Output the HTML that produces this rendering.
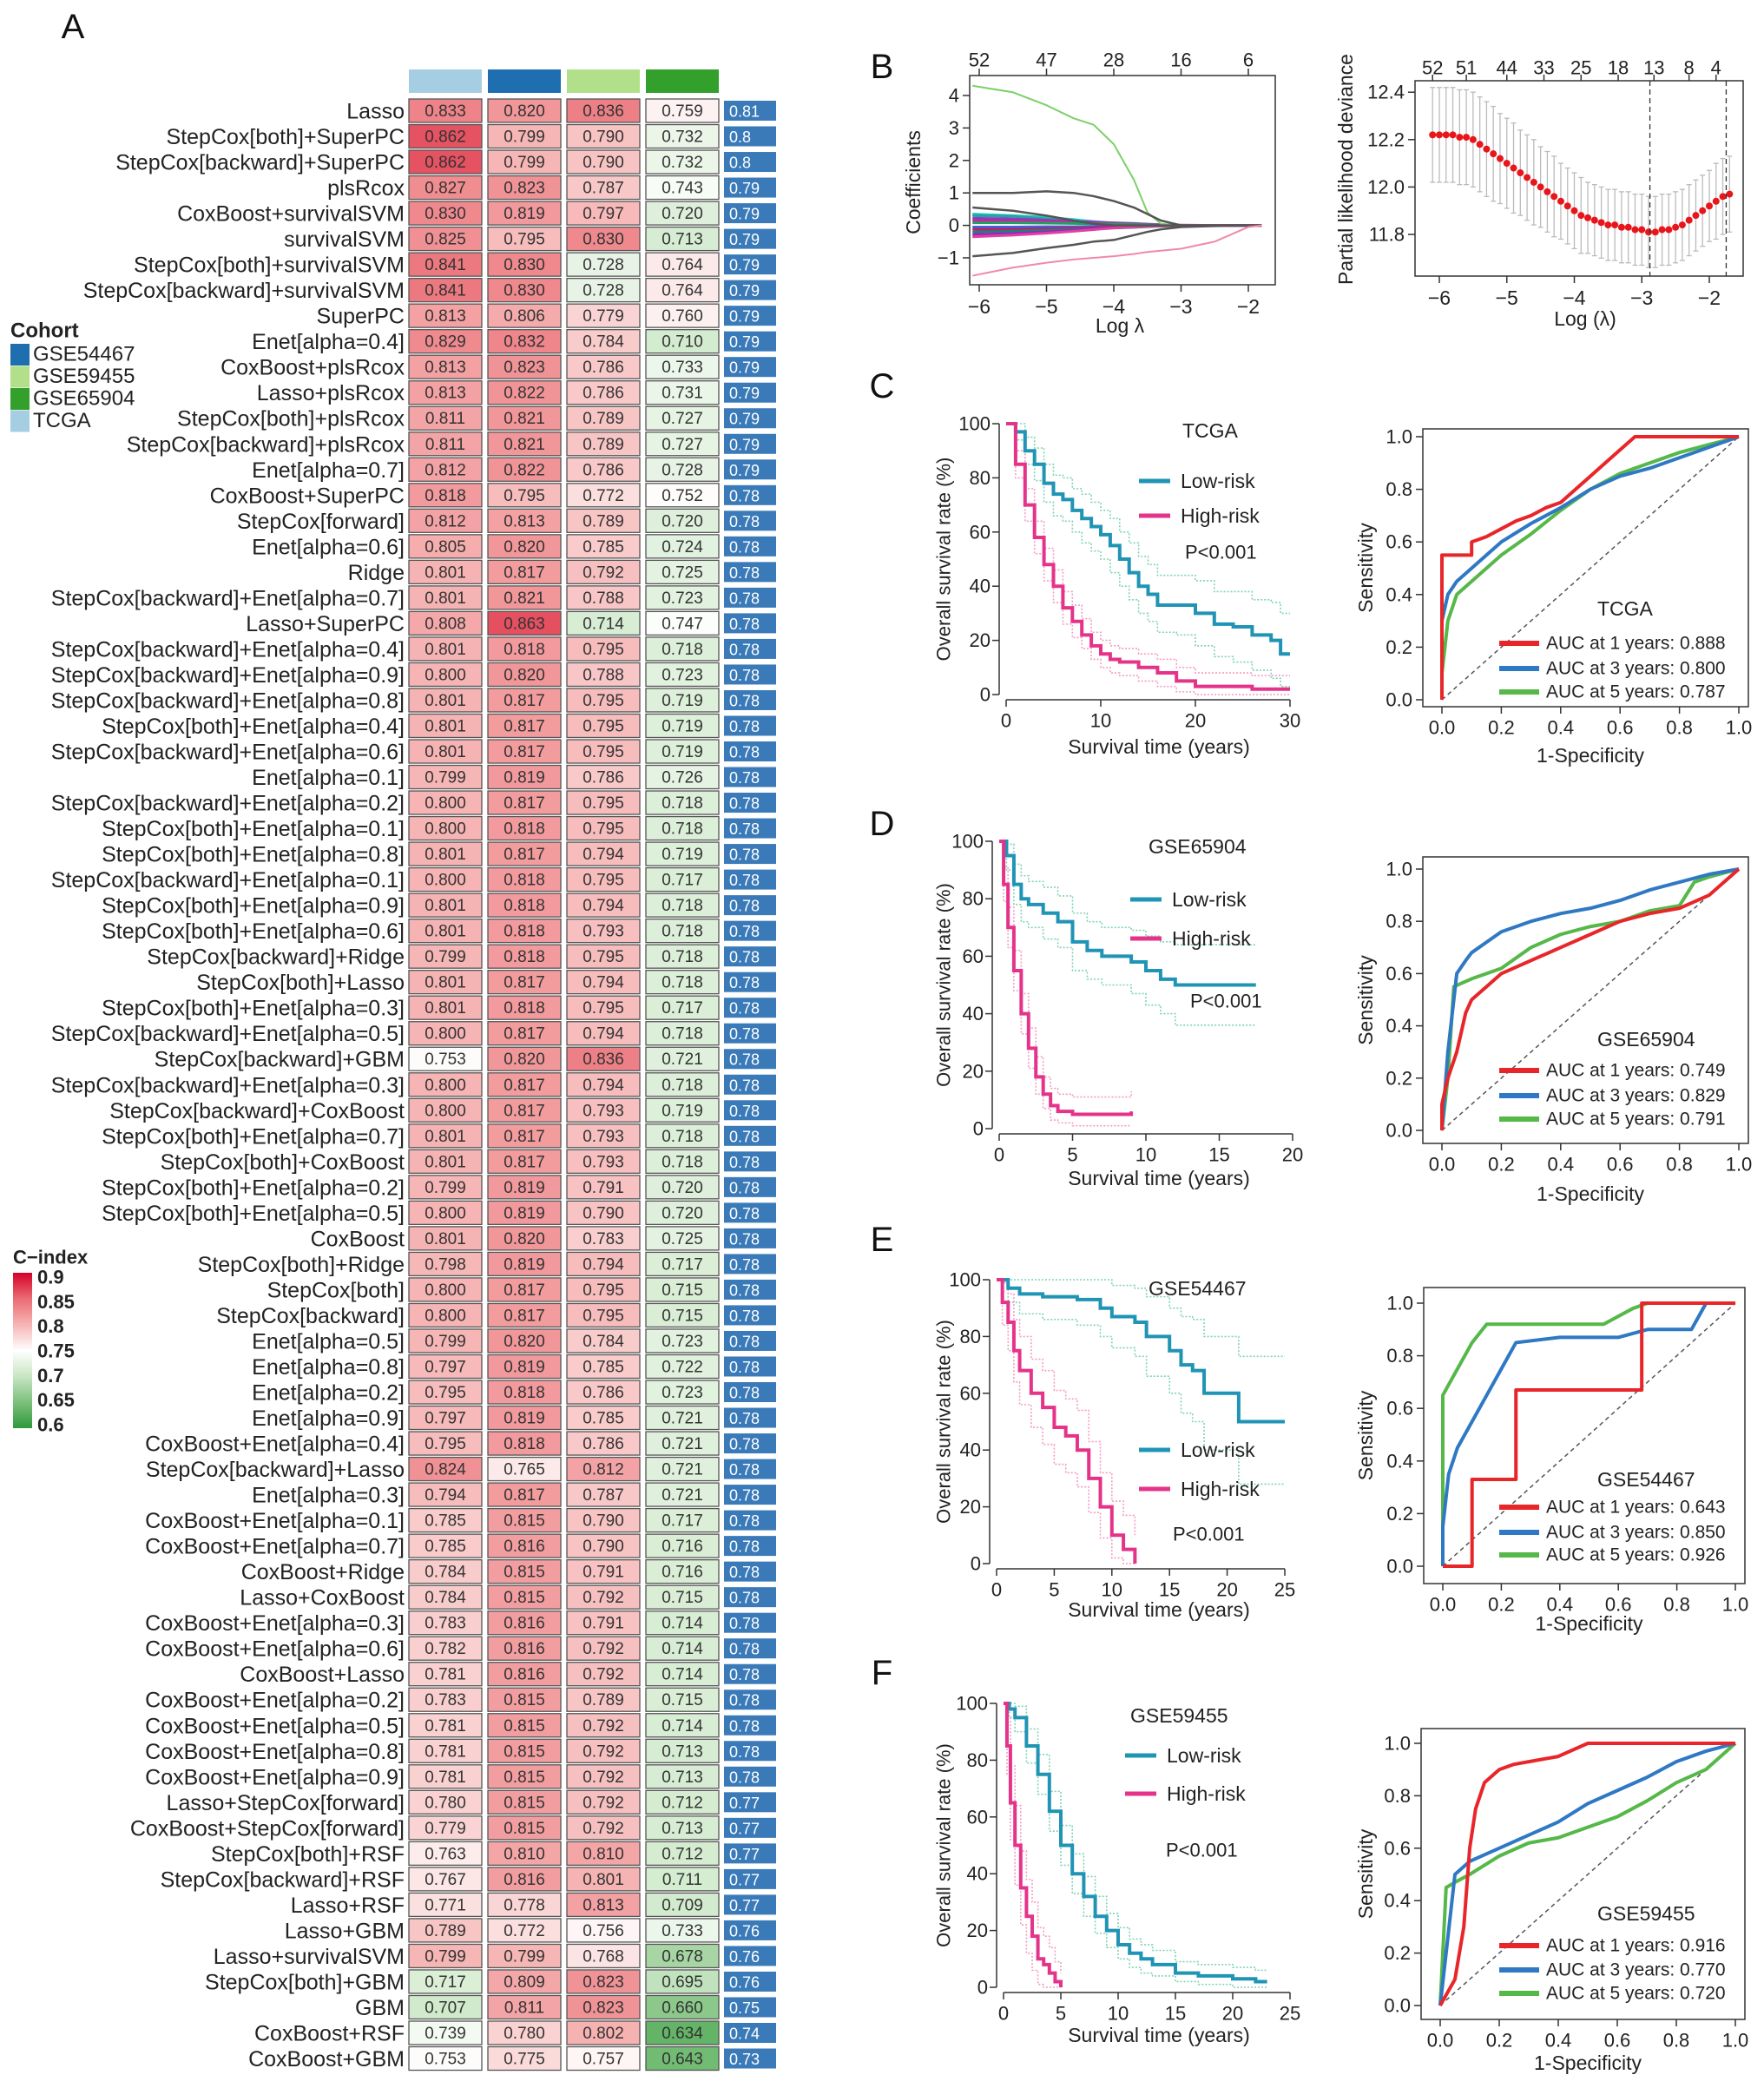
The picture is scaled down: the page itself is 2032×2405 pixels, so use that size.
<!DOCTYPE html>
<html><head><meta charset="utf-8"><style>
html,body{margin:0;padding:0;background:#fff}
svg{display:block;font-family:"Liberation Sans",Arial,sans-serif}
</style></head><body>
<svg id="fig" xmlns="http://www.w3.org/2000/svg" width="2032" height="2405" viewBox="0 0 2032 2405">
<rect width="2032" height="2405" fill="#fff"/>
</svg>
<script>
// ===== Heatmap data =====
const models=["Lasso","StepCox[both]+SuperPC","StepCox[backward]+SuperPC","plsRcox","CoxBoost+survivalSVM","survivalSVM","StepCox[both]+survivalSVM","StepCox[backward]+survivalSVM","SuperPC","Enet[alpha=0.4]","CoxBoost+plsRcox","Lasso+plsRcox","StepCox[both]+plsRcox","StepCox[backward]+plsRcox","Enet[alpha=0.7]","CoxBoost+SuperPC","StepCox[forward]","Enet[alpha=0.6]","Ridge","StepCox[backward]+Enet[alpha=0.7]","Lasso+SuperPC","StepCox[backward]+Enet[alpha=0.4]","StepCox[backward]+Enet[alpha=0.9]","StepCox[backward]+Enet[alpha=0.8]","StepCox[both]+Enet[alpha=0.4]","StepCox[backward]+Enet[alpha=0.6]","Enet[alpha=0.1]","StepCox[backward]+Enet[alpha=0.2]","StepCox[both]+Enet[alpha=0.1]","StepCox[both]+Enet[alpha=0.8]","StepCox[backward]+Enet[alpha=0.1]","StepCox[both]+Enet[alpha=0.9]","StepCox[both]+Enet[alpha=0.6]","StepCox[backward]+Ridge","StepCox[both]+Lasso","StepCox[both]+Enet[alpha=0.3]","StepCox[backward]+Enet[alpha=0.5]","StepCox[backward]+GBM","StepCox[backward]+Enet[alpha=0.3]","StepCox[backward]+CoxBoost","StepCox[both]+Enet[alpha=0.7]","StepCox[both]+CoxBoost","StepCox[both]+Enet[alpha=0.2]","StepCox[both]+Enet[alpha=0.5]","CoxBoost","StepCox[both]+Ridge","StepCox[both]","StepCox[backward]","Enet[alpha=0.5]","Enet[alpha=0.8]","Enet[alpha=0.2]","Enet[alpha=0.9]","CoxBoost+Enet[alpha=0.4]","StepCox[backward]+Lasso","Enet[alpha=0.3]","CoxBoost+Enet[alpha=0.1]","CoxBoost+Enet[alpha=0.7]","CoxBoost+Ridge","Lasso+CoxBoost","CoxBoost+Enet[alpha=0.3]","CoxBoost+Enet[alpha=0.6]","CoxBoost+Lasso","CoxBoost+Enet[alpha=0.2]","CoxBoost+Enet[alpha=0.5]","CoxBoost+Enet[alpha=0.8]","CoxBoost+Enet[alpha=0.9]","Lasso+StepCox[forward]","CoxBoost+StepCox[forward]","StepCox[both]+RSF","StepCox[backward]+RSF","Lasso+RSF","Lasso+GBM","Lasso+survivalSVM","StepCox[both]+GBM","GBM","CoxBoost+RSF","CoxBoost+GBM"];
const tcga=[.833,.862,.862,.827,.830,.825,.841,.841,.813,.829,.813,.813,.811,.811,.812,.818,.812,.805,.801,.801,.808,.801,.800,.801,.801,.801,.799,.800,.800,.801,.800,.801,.801,.799,.801,.801,.800,.753,.800,.800,.801,.801,.799,.800,.801,.798,.800,.800,.799,.797,.795,.797,.795,.824,.794,.785,.785,.784,.784,.783,.782,.781,.783,.781,.781,.781,.780,.779,.763,.767,.771,.789,.799,.717,.707,.739,.753];
const gse54467=[.820,.799,.799,.823,.819,.795,.830,.830,.806,.832,.823,.822,.821,.821,.822,.795,.813,.820,.817,.821,.863,.818,.820,.817,.817,.817,.819,.817,.818,.817,.818,.818,.818,.818,.817,.818,.817,.820,.817,.817,.817,.817,.819,.819,.820,.819,.817,.817,.820,.819,.818,.819,.818,.765,.817,.815,.816,.815,.815,.816,.816,.816,.815,.815,.815,.815,.815,.815,.810,.816,.778,.772,.799,.809,.811,.780,.775];
const gse59455=[.836,.790,.790,.787,.797,.830,.728,.728,.779,.784,.786,.786,.789,.789,.786,.772,.789,.785,.792,.788,.714,.795,.788,.795,.795,.795,.786,.795,.795,.794,.795,.794,.793,.795,.794,.795,.794,.836,.794,.793,.793,.793,.791,.790,.783,.794,.795,.795,.784,.785,.786,.785,.786,.812,.787,.790,.790,.791,.792,.791,.792,.792,.789,.792,.792,.792,.792,.792,.810,.801,.813,.756,.768,.823,.823,.802,.757];
const gse65904=[.759,.732,.732,.743,.720,.713,.764,.764,.760,.710,.733,.731,.727,.727,.728,.752,.720,.724,.725,.723,.747,.718,.723,.719,.719,.719,.726,.718,.718,.719,.717,.718,.718,.718,.718,.717,.718,.721,.718,.719,.718,.718,.720,.720,.725,.717,.715,.715,.723,.722,.723,.721,.721,.721,.721,.717,.716,.716,.715,.714,.714,.714,.715,.714,.713,.713,.712,.713,.712,.711,.709,.733,.678,.695,.660,.634,.643];
const meanC=[0.81,0.8,0.8,0.79,0.79,0.79,0.79,0.79,0.79,0.79,0.79,0.79,0.79,0.79,0.79,0.78,0.78,0.78,0.78,0.78,0.78,0.78,0.78,0.78,0.78,0.78,0.78,0.78,0.78,0.78,0.78,0.78,0.78,0.78,0.78,0.78,0.78,0.78,0.78,0.78,0.78,0.78,0.78,0.78,0.78,0.78,0.78,0.78,0.78,0.78,0.78,0.78,0.78,0.78,0.78,0.78,0.78,0.78,0.78,0.78,0.78,0.78,0.78,0.78,0.78,0.78,0.77,0.77,0.77,0.77,0.77,0.76,0.76,0.76,0.75,0.74,0.73];
const cohortNames=["GSE54467","GSE59455","GSE65904","TCGA"];
const cindexTicks=[0.9,0.85,0.8,0.75,0.7,0.65,0.6];

// ===== Panel B data =====
const coefGrid=[-6.1,-5.5,-5,-4.6,-4.3,-4,-3.7,-3.5,-3.3,-3,-2.5,-2,-1.8];
const coefGreen=[4.3,4.1,3.7,3.3,3.1,2.5,1.4,0.4,0.05,0,0,0,0];
const coefBlack1=[1.0,1.0,1.05,1.0,0.9,0.75,0.55,0.35,0.15,0,0,0,0];
const coefBlack2=[0.55,0.45,0.3,0.15,0.05,0,0,0,0,0,0,0,0];
const coefBlack3=[-0.95,-0.85,-0.7,-0.6,-0.5,-0.45,-0.3,-0.2,-0.12,-0.05,-0.02,0,0];
const coefPink=[-1.55,-1.3,-1.15,-1.05,-1.0,-0.95,-0.88,-0.82,-0.78,-0.72,-0.5,-0.05,0];
const coefSmall=[[0.35,0.3,0.25,0.18,0.12,0.07,0.03,0.01,0,0,0,0,0],[0.3,0.28,0.2,0.12,0.06,0.02,0,0,0,0,0,0,0],[0.22,0.2,0.16,0.12,0.1,0.08,0.06,0.04,0.02,0,0,0,0],[0.15,0.14,0.12,0.1,0.08,0.06,0.04,0.03,0.02,0.01,0,0,0],[0.08,0.08,0.07,0.06,0.05,0.04,0.03,0.02,0.01,0,0,0,0],[-0.05,-0.05,-0.04,-0.04,-0.03,-0.02,-0.02,-0.01,0,0,0,0,0],[-0.12,-0.12,-0.1,-0.08,-0.07,-0.05,-0.04,-0.03,-0.02,-0.01,0,0,0],[-0.2,-0.18,-0.15,-0.12,-0.1,-0.08,-0.06,-0.04,-0.02,0,0,0,0],[-0.28,-0.25,-0.2,-0.15,-0.1,-0.06,-0.03,-0.01,0,0,0,0,0],[-0.35,-0.3,-0.24,-0.18,-0.13,-0.08,-0.05,-0.03,-0.01,0,0,0,0]];
const coefSmallColors=["#1ec8c8","#2aa0a0","#8040c0","#d020a0","#20a060","#4060e0","#c02060","#208080","#a020c0","#e040a0"];
const coefTopLabels=["52","47","28","16","6"];
const cvLogLambda=[-6.1,-6.0,-5.9,-5.8,-5.7,-5.6,-5.5,-5.4,-5.3,-5.2,-5.1,-5.0,-4.9,-4.8,-4.7,-4.6,-4.5,-4.4,-4.3,-4.2,-4.1,-4.0,-3.9,-3.8,-3.7,-3.6,-3.5,-3.4,-3.3,-3.2,-3.1,-3.0,-2.9,-2.8,-2.7,-2.6,-2.5,-2.4,-2.3,-2.2,-2.1,-2.0,-1.9,-1.8,-1.7];
const cvMean=[12.22,12.22,12.22,12.22,12.21,12.21,12.20,12.18,12.16,12.14,12.12,12.10,12.08,12.06,12.04,12.02,12.00,11.98,11.96,11.94,11.92,11.90,11.88,11.87,11.86,11.85,11.84,11.84,11.83,11.83,11.82,11.82,11.81,11.81,11.82,11.82,11.83,11.84,11.86,11.88,11.90,11.92,11.94,11.96,11.97];
const cvSE=[0.2,0.2,0.2,0.2,0.2,0.2,0.2,0.2,0.2,0.2,0.19,0.19,0.19,0.18,0.18,0.18,0.17,0.17,0.17,0.16,0.16,0.16,0.16,0.15,0.15,0.15,0.15,0.15,0.15,0.15,0.15,0.15,0.15,0.15,0.15,0.15,0.15,0.15,0.15,0.15,0.15,0.15,0.16,0.16,0.16];
const cvTopLabels=["52","51","44","33","25","18","13","8","4"];
const cvTopPos=[-6.1,-5.6,-5.0,-4.45,-3.9,-3.35,-2.82,-2.3,-1.9];
const cvVLines=[-2.88,-1.75];

// ===== KM data =====
const cLowT=[0,1,2,3,4,5,6,7,8,9,10,11,12,13,14,15,16,18,20,22,24,26,28,29,30];
const cLowS=[100,97,90,85,78,74,72,68,65,62,59,55,50,45,40,37,33,33,30,26,25,22,20,15,15];
const cLowLo=[100,94,85,79,71,66,64,60,56,53,50,45,40,35,30,27,23,22,18,14,12,9,6,3,3];
const cLowHi=[100,100,95,91,85,81,80,76,74,71,68,65,60,56,51,48,44,44,42,38,38,35,34,30,30];
const cHighT=[0,1,2,3,4,5,6,7,8,9,10,11,12,14,16,18,20,22,26,30];
const cHighS=[100,85,70,58,48,40,32,27,22,18,15,13,12,10,8,5,3,3,2,2];
const cHighLo=[100,80,64,52,42,34,26,21,17,13,10,8,7,5,3,1,0,0,0,0];
const cHighHi=[100,90,76,64,54,46,38,33,28,23,20,18,17,15,13,10,8,8,7,7];
const dLowT=[0,0.5,1,1.5,2,3,4,5,6,7,9,10,11,12,17.5];
const dLowS=[100,95,85,80,78,75,72,65,62,60,58,55,52,50,50];
const dLowLo=[100,90,78,72,70,66,63,55,52,50,47,43,40,36,36];
const dLowHi=[100,99,92,88,86,84,81,75,72,70,69,67,65,64,64];
const dHighT=[0,0.3,0.6,1,1.5,2,2.5,3,3.5,4,5,9];
const dHighS=[100,85,70,55,40,28,18,12,8,6,5,6];
const dHighLo=[100,79,63,48,33,21,12,7,3,2,1,1];
const dHighHi=[100,91,77,62,47,35,25,18,14,12,11,13];
const eLowT=[0,1,2,4,7,9,10,12,13,15,16,17,18,21,25];
const eLowS=[100,97,95,94,93,90,87,85,80,75,70,68,60,50,50];
const eLowLo=[100,92,88,86,84,80,76,73,66,60,53,50,40,28,28];
const eLowHi=[100,100,100,100,100,100,98,97,94,90,87,86,80,73,73];
const eHighT=[0,0.5,1,1.5,2,3,4,5,6,7,8,9,10,11,12];
const eHighS=[100,92,85,75,68,60,55,48,45,40,30,20,10,5,0];
const eHighLo=[100,84,75,64,56,48,42,35,32,27,18,9,2,0,0];
const eHighHi=[100,99,95,86,80,72,68,61,58,54,43,32,22,17,10];
const fLowT=[0,0.5,1,2,3,4,5,6,7,8,9,10,11,12,13,15,17,20,22,23];
const fLowS=[100,98,95,85,75,62,50,40,32,25,20,15,12,10,8,5,4,3,2,2];
const fLowLo=[100,95,90,79,68,55,43,33,25,19,14,10,7,5,4,2,1,0,0,0];
const fLowHi=[100,100,99,91,82,69,57,47,39,32,26,21,17,15,13,9,8,7,6,6];
const fHighT=[0,0.3,0.6,1,1.5,2,2.5,3,3.5,4,4.5,5];
const fHighS=[100,85,65,50,35,25,18,10,8,5,2,0];
const fHighLo=[100,75,52,36,22,12,6,1,0,0,0,0];
const fHighHi=[100,95,78,64,48,38,30,21,18,14,9,5];

// ===== ROC data (FPR / TPR) =====
const cR1x=[0,0,0.1,0.1,0.15,0.2,0.25,0.3,0.35,0.4,0.45,0.5,0.55,0.6,0.65,1],cR1y=[0,0.55,0.55,0.6,0.62,0.65,0.68,0.7,0.73,0.75,0.8,0.85,0.9,0.95,1,1];
const cR3x=[0,0,0.02,0.05,0.1,0.2,0.3,0.4,0.5,0.6,0.7,0.8,0.9,1],cR3y=[0,0.3,0.4,0.45,0.5,0.6,0.67,0.73,0.8,0.85,0.88,0.92,0.96,1];
const cR5x=[0,0,0.02,0.05,0.1,0.2,0.3,0.4,0.5,0.6,0.7,0.8,0.9,1],cR5y=[0,0.1,0.3,0.4,0.45,0.55,0.63,0.72,0.8,0.86,0.9,0.94,0.97,1];
const dR1x=[0,0,0.02,0.05,0.08,0.1,0.15,0.2,0.3,0.4,0.5,0.6,0.7,0.8,0.9,0.95,1],dR1y=[0,0.1,0.2,0.3,0.45,0.5,0.55,0.6,0.65,0.7,0.75,0.8,0.83,0.85,0.9,0.95,1];
const dR3x=[0,0.02,0.05,0.08,0.1,0.15,0.2,0.3,0.4,0.5,0.6,0.7,0.8,0.9,1],dR3y=[0,0.3,0.6,0.65,0.68,0.72,0.76,0.8,0.83,0.85,0.88,0.92,0.95,0.98,1];
const dR5x=[0,0.02,0.04,0.1,0.2,0.3,0.4,0.5,0.6,0.7,0.8,0.85,0.9,1],dR5y=[0,0.2,0.55,0.58,0.62,0.7,0.75,0.78,0.8,0.84,0.86,0.95,0.97,1];
const eR1x=[0,0.1,0.1,0.25,0.25,0.68,0.68,1],eR1y=[0,0,0.33,0.33,0.67,0.67,1,1];
const eR3x=[0,0,0.02,0.05,0.1,0.15,0.2,0.25,0.4,0.6,0.7,0.85,0.9,1],eR3y=[0,0.15,0.35,0.45,0.55,0.65,0.75,0.85,0.87,0.87,0.9,0.9,1,1];
const eR5x=[0,0,0.05,0.1,0.15,0.55,0.6,0.65,0.7,1],eR5y=[0,0.65,0.75,0.85,0.92,0.92,0.95,0.98,1,1];
const fR1x=[0,0.05,0.08,0.1,0.12,0.15,0.2,0.25,0.4,0.5,1],fR1y=[0,0.1,0.3,0.6,0.75,0.85,0.9,0.92,0.95,1,1];
const fR3x=[0,0.02,0.05,0.1,0.2,0.3,0.4,0.5,0.6,0.7,0.8,0.9,1],fR3y=[0,0.2,0.5,0.55,0.6,0.65,0.7,0.77,0.82,0.87,0.93,0.97,1];
const fR5x=[0,0.02,0.05,0.1,0.2,0.3,0.4,0.5,0.6,0.7,0.8,0.9,0.95,1],fR5y=[0,0.45,0.47,0.5,0.57,0.62,0.64,0.68,0.72,0.78,0.85,0.9,0.95,1];
const cAUC=["0.888","0.800","0.787"],dAUC=["0.749","0.829","0.791"],eAUC=["0.643","0.850","0.926"],fAUC=["0.916","0.770","0.720"];

const NS="http://www.w3.org/2000/svg";
const svg=document.getElementById('fig');
function el(tag,attrs,parent,text){const e=document.createElementNS(NS,tag);for(const k in attrs)e.setAttribute(k,attrs[k]);if(text!==undefined)e.textContent=text;(parent||svg).appendChild(e);return e;}
function grp(name){const g=el('g',{},svg);


return g;}
function txt(g,x,y,s,size,opts){opts=opts||{};const t=el('text',{x:x,y:y,'font-size':size,fill:opts.fill||'#222','text-anchor':opts.anchor||'start','dominant-baseline':'central'},g,s);if(opts.rot)t.setAttribute('transform','rotate(-90 '+x+' '+y+')');if(opts.weight)t.setAttribute('font-weight',opts.weight);


return t;}

// ===== Panel letters =====
const lettersG=grp('panel-letters');
[["A",84,31],["B",1016,77],["C",1016,445],["D",1016,949],["E",1016,1428],["F",1016,1927]].forEach(l=>{txt(lettersG,l[1],l[2],l[0],40,{anchor:'middle',fill:'#111',name:'panel-letter-'+l[0].toLowerCase()});});

// ===== Heatmap =====
const stops=[[0.6,[46,154,58]],[0.65,[124,192,124]],[0.7,[200,230,195]],[0.75,[255,255,255]],[0.8,[246,180,180]],[0.85,[234,108,116]],[0.9,[214,0,42]]];
function cscale(v){if(v<=stops[0][0])return 'rgb('+stops[0][1]+')';for(let i=1;i<stops.length;i++){if(v<=stops[i][0]){const a=stops[i-1],b=stops[i],t=(v-a[0])/(b[0]-a[0]);return 'rgb('+a[1].map((c,k)=>Math.round(c+(b[1][k]-c)*t)).join(',')+')';}}return 'rgb('+stops[stops.length-1][1]+')';}
const hm=grp('heatmap');
const colX=[471,562,653,744],colW=84,rowTop=114,rowH=29.52,cellH=27;
const colFill=["#a6cee3","#1f6fb0","#b2df8a","#33a02c"];
const colData=[tcga,gse54467,gse59455,gse65904];
colX.forEach((x,j)=>{const r=el('rect',{x:x,y:80,width:colW,height:27,fill:colFill[j]},hm);

});
function rowY(i){return rowTop+i*rowH;}
models.forEach((m,i)=>{
  const y=rowY(i);
  txt(hm,466,y+cellH/2+1,m,25,{anchor:'end',name:'model-label'});
  colData.forEach((arr,j)=>{
    const r=el('rect',{x:colX[j],y:y,width:colW,height:cellH,fill:cscale(arr[i]),stroke:'#555','stroke-width':1.3},hm);
    
    
    txt(hm,colX[j]+colW/2,y+cellH/2+1,arr[i].toFixed(3),19,{anchor:'middle',fill:'#333',name:'cindex-value'});
  });
  const b=el('rect',{x:834,y:y+2,width:60,height:cellH-4,fill:'#3a7ab8'},hm);
  
  
  txt(hm,840,y+cellH/2+1,String(meanC[i]),18,{fill:'#fff',name:'mean-cindex-value'});
});
// cohort legend
const cl=grp('cohort-legend');
txt(cl,12,381,"Cohort",24,{fill:'#222',weight:'bold',name:'cohort-legend-title'});
const legFill=["#1f6fb0","#b2df8a","#33a02c","#a6cee3"];
cohortNames.forEach((n,k)=>{const y=408+k*25.5;const r=el('rect',{x:12,y:y-12,width:22,height:25,fill:legFill[k]},cl);


txt(cl,38,y,n,24,{name:'cohort-legend-entry'});});
// C-index legend
const ci=grp('cindex-legend');
txt(ci,15,1448,"C\u2212index",22,{weight:'bold',name:'cindex-legend-title'});
const defs=el('defs',{},svg);const lg=el('linearGradient',{id:'cg',x1:0,y1:0,x2:0,y2:1},defs);
cindexTicks.forEach((v,k)=>{el('stop',{offset:(k/(cindexTicks.length-1)),'stop-color':cscale(v)},lg);});
const cb=el('rect',{x:15,y:1466,width:22,height:179,fill:'url(#cg)'},ci);


cindexTicks.forEach((v,k)=>{txt(ci,43,1471+k*(170/6),String(v),22,{weight:'bold',name:'cindex-tick'});});

// ===== Panel B left: coefficient paths =====
const bl=grp('lasso-coef-plot');
const bL={x0:1117,x1:1469,y0:87,y1:328};
const bx=v=>1128+(v+6)*77.5, by=v=>259.6-v*37.4;
function poly(g,xs,ys,fx,fy,stroke,w,name,extra){const p=el('polyline',Object.assign({points:xs.map((x,i)=>fx(x)+','+fy(ys[i])).join(' '),fill:'none',stroke:stroke,'stroke-width':w,'stroke-linejoin':'round'},extra||{}),g);


return p;}
coefSmall.forEach((s,k)=>poly(bl,coefGrid,s,bx,by,coefSmallColors[k],3,'coef-path-small'));
poly(bl,coefGrid,coefGreen,bx,by,'#7ccf6a',2,'coef-path-green');
poly(bl,coefGrid,coefBlack1,bx,by,'#555',2.5,'coef-path-black');
poly(bl,coefGrid,coefBlack2,bx,by,'#555',2.5,'coef-path-black');
poly(bl,coefGrid,coefBlack3,bx,by,'#555',2.5,'coef-path-black');
poly(bl,coefGrid,coefPink,bx,by,'#f08aa8',2,'coef-path-pink');
function box(g,b,name){const r=el('rect',{x:b.x0,y:b.y0,width:b.x1-b.x0,height:b.y1-b.y0,fill:'none',stroke:'#333','stroke-width':1.5},g);

}
box(bl,bL,'coef-plot-frame');
[-6,-5,-4,-3,-2].forEach(v=>{el('line',{x1:bx(v),x2:bx(v),y1:bL.y1,y2:bL.y1+8,stroke:'#333','stroke-width':1.5},bl);txt(bl,bx(v),bL.y1+25,String(v).replace('-','\u2212'),23,{anchor:'middle',name:'x-tick'});
el('line',{x1:bx(v),x2:bx(v),y1:bL.y0,y2:bL.y0-8,stroke:'#333','stroke-width':1.5},bl);});
coefTopLabels.forEach((s,k)=>txt(bl,bx(-6+k),69,s,22,{anchor:'middle',name:'top-df-label'}));
[4,3,2,1,0,-1].forEach(v=>{el('line',{x1:bL.x0,x2:bL.x0-8,y1:by(v),y2:by(v),stroke:'#333','stroke-width':1.5},bl);txt(bl,bL.x0-12,by(v),String(v).replace('-','\u2212'),22,{anchor:'end',name:'y-tick'});});
txt(bl,1290,375,"Log \u03bb",23,{anchor:'middle',name:'x-axis-title'});
txt(bl,1052,210,"Coefficients",23,{anchor:'middle',rot:1,name:'y-axis-title'});

// ===== Panel B right: CV curve =====
const br=grp('lasso-cv-plot');
const bR={x0:1630,x1:2008,y0:93,y1:318};
const cx=v=>1658+(v+6)*77.75, cy=v=>270-(v-11.8)*273;
cvLogLambda.forEach((l,i)=>{const x=cx(l);const hi=cvMean[i]+cvSE[i],lo=cvMean[i]-cvSE[i];
const ln=el('line',{x1:x,x2:x,y1:cy(hi),y2:cy(lo),stroke:'#bbb','stroke-width':1.3},br);


el('line',{x1:x-3,x2:x+3,y1:cy(hi),y2:cy(hi),stroke:'#bbb','stroke-width':1.3},br);
el('line',{x1:x-3,x2:x+3,y1:cy(lo),y2:cy(lo),stroke:'#bbb','stroke-width':1.3},br);});
cvLogLambda.forEach((l,i)=>{const c=el('circle',{cx:cx(l),cy:cy(cvMean[i]),r:4,fill:'#e8161b'},br);

});
cvVLines.forEach(v=>{const l=el('line',{x1:cx(v),x2:cx(v),y1:bR.y0,y2:bR.y1,stroke:'#333','stroke-width':1.3,'stroke-dasharray':'6,4'},br);

});
box(br,bR,'cv-plot-frame');
[-6,-5,-4,-3,-2].forEach(v=>{el('line',{x1:cx(v),x2:cx(v),y1:bR.y1,y2:bR.y1+8,stroke:'#333','stroke-width':1.5},br);txt(br,cx(v),bR.y1+25,String(v).replace('-','\u2212'),23,{anchor:'middle',name:'x-tick'});});
cvTopLabels.forEach((s,k)=>{el('line',{x1:cx(cvTopPos[k]),x2:cx(cvTopPos[k]),y1:bR.y0,y2:bR.y0-7,stroke:'#333','stroke-width':1.5},br);txt(br,cx(cvTopPos[k]),78,s,22,{anchor:'middle',name:'top-df-label'});});
[12.4,12.2,12.0,11.8].forEach(v=>{el('line',{x1:bR.x0,x2:bR.x0-8,y1:cy(v),y2:cy(v),stroke:'#333','stroke-width':1.5},br);txt(br,bR.x0-12,cy(v),v.toFixed(1),22,{anchor:'end',name:'y-tick'});});
txt(br,1826,367,"Log (\u03bb)",23,{anchor:'middle',name:'x-axis-title'});
txt(br,1550,195,"Partial likelihood deviance",23,{anchor:'middle',rot:1,name:'y-axis-title'});

// ===== KM plots =====
function stepPts(T,S,fx,fy){let pts=[];for(let i=0;i<T.length;i++){if(i>0)pts.push(fx(T[i])+','+fy(S[i-1]));pts.push(fx(T[i])+','+fy(S[i]));}return pts.join(' ');}
function km(cfg){
  const g=grp(cfg.name);
  const fx=v=>cfg.x0+v*(cfg.xEnd-cfg.x0)/cfg.xMax, fy=v=>cfg.y0-v*(cfg.y0-cfg.y100)/100;
  [[cfg.lowT,cfg.lowLo,'#7fd3b5'],[cfg.lowT,cfg.lowHi,'#7fd3b5'],[cfg.highT,cfg.highLo,'#f39cc4'],[cfg.highT,cfg.highHi,'#f39cc4']].forEach(b=>{
    const p=el('polyline',{points:stepPts(b[0],b[1],fx,fy),fill:'none',stroke:b[2],'stroke-width':1.6,'stroke-dasharray':'2,2'},g);
    
    });
  const pl=el('polyline',{points:stepPts(cfg.lowT,cfg.lowS,fx,fy),fill:'none',stroke:'#1f94b4','stroke-width':4},g);
  
  
  const ph=el('polyline',{points:stepPts(cfg.highT,cfg.highS,fx,fy),fill:'none',stroke:'#e5338a','stroke-width':4},g);
  
  
  const ax=cfg.x0-8, ay=cfg.y0+6;
  el('line',{x1:ax,x2:ax,y1:fy(0),y2:fy(100),stroke:'#333','stroke-width':1.5},g);
  el('line',{x1:fx(0),x2:fx(cfg.xMax),y1:ay,y2:ay,stroke:'#333','stroke-width':1.5},g);
  [0,20,40,60,80,100].forEach(v=>{el('line',{x1:ax,x2:ax-8,y1:fy(v),y2:fy(v),stroke:'#333','stroke-width':1.5},g);txt(g,ax-10,fy(v),String(v),22,{anchor:'end',name:'y-tick'});});
  cfg.xTicks.forEach(v=>{el('line',{x1:fx(v),x2:fx(v),y1:ay,y2:ay+8,stroke:'#333','stroke-width':1.5},g);txt(g,fx(v),ay+24,String(v),22,{anchor:'middle',name:'x-tick'});});
  txt(g,1087,(fy(0)+fy(100))/2,"Overall survival rate (%)",22,{anchor:'middle',rot:1,name:'y-axis-title'});
  txt(g,1335,cfg.xTitleY,"Survival time (years)",23,{anchor:'middle',name:'x-axis-title'});
  txt(g,cfg.titleX,cfg.titleY,cfg.title,23,{name:'km-cohort-title'});
  const l1=el('line',{x1:cfg.legX,x2:cfg.legX+36,y1:cfg.lowY,y2:cfg.lowY,stroke:'#1f94b4','stroke-width':5},g);
  
  
  txt(g,cfg.legX+48,cfg.lowY,"Low-risk",23,{name:'legend-low-risk-label'});
  const l2=el('line',{x1:cfg.legX,x2:cfg.legX+36,y1:cfg.highY,y2:cfg.highY,stroke:'#e5338a','stroke-width':5},g);
  
  
  txt(g,cfg.legX+48,cfg.highY,"High-risk",23,{name:'legend-high-risk-label'});
  txt(g,cfg.pX,cfg.pY,"P<0.001",22,{name:'p-value'});
}
km({name:'km-tcga',x0:1159,xEnd:1486,xMax:30,y100:488,y0:800,xTicks:[0,10,20,30],lowT:cLowT,lowS:cLowS,lowLo:cLowLo,lowHi:cLowHi,highT:cHighT,highS:cHighS,highLo:cHighLo,highHi:cHighHi,xTitleY:860,title:"TCGA",titleX:1362,titleY:496,legX:1312,lowY:554,highY:594,pX:1365,pY:636});
km({name:'km-gse65904',x0:1151,xEnd:1489,xMax:20,y100:969,y0:1300,xTicks:[0,5,10,15,20],lowT:dLowT,lowS:dLowS,lowLo:dLowLo,lowHi:dLowHi,highT:dHighT,highS:dHighS,highLo:dHighLo,highHi:dHighHi,xTitleY:1357,title:"GSE65904",titleX:1323,titleY:975,legX:1302,lowY:1036,highY:1081,pX:1371,pY:1153});
km({name:'km-gse54467',x0:1148,xEnd:1480,xMax:25,y100:1474,y0:1801,xTicks:[0,5,10,15,20,25],lowT:eLowT,lowS:eLowS,lowLo:eLowLo,lowHi:eLowHi,highT:eHighT,highS:eHighS,highLo:eHighLo,highHi:eHighHi,xTitleY:1854,title:"GSE54467",titleX:1323,titleY:1484,legX:1312,lowY:1670,highY:1715,pX:1351,pY:1767});
km({name:'km-gse59455',x0:1156,xEnd:1486,xMax:25,y100:1962,y0:2289,xTicks:[0,5,10,15,20,25],lowT:fLowT,lowS:fLowS,lowLo:fLowLo,lowHi:fLowHi,highT:fHighT,highS:fHighS,highLo:fHighLo,highHi:fHighHi,xTitleY:2344,title:"GSE59455",titleX:1302,titleY:1976,legX:1296,lowY:2022,highY:2066,pX:1343,pY:2131});

// ===== ROC plots =====
function roc(cfg){
  const g=grp(cfg.name);
  const fx=v=>cfg.x0+v*(cfg.x1-cfg.x0), fy=v=>cfg.y0-v*(cfg.y0-cfg.y1);
  const d=el('line',{x1:fx(0),y1:fy(0),x2:fx(1),y2:fy(1),stroke:'#555','stroke-width':1.5,'stroke-dasharray':'5,4'},g);
  
  
  const cols=['#e8262a','#2f78c4','#55b848'];
  [[cfg.r5x,cfg.r5y,2],[cfg.r3x,cfg.r3y,1],[cfg.r1x,cfg.r1y,0]].forEach(c=>poly(g,c[0],c[1],fx,fy,cols[c[2]],4,'roc-curve-'+['1y','3y','5y'][c[2]]));
  box(g,{x0:cfg.bx0,x1:cfg.bx1,y0:cfg.by0,y1:cfg.by1},'roc-frame');
  [0,0.2,0.4,0.6,0.8,1].forEach(v=>{
    el('line',{x1:fx(v),x2:fx(v),y1:cfg.by1,y2:cfg.by1+8,stroke:'#333','stroke-width':1.5},g);txt(g,fx(v),cfg.by1+24,v.toFixed(1),22,{anchor:'middle',name:'x-tick'});
    el('line',{x1:cfg.bx0,x2:cfg.bx0-8,y1:fy(v),y2:fy(v),stroke:'#333','stroke-width':1.5},g);txt(g,cfg.bx0-12,fy(v),v.toFixed(1),22,{anchor:'end',name:'y-tick'});});
  txt(g,1573,(cfg.by0+cfg.by1)/2,"Sensitivity",23,{anchor:'middle',rot:1,name:'y-axis-title'});
  txt(g,(cfg.x0+cfg.x1)/2,cfg.xTitleY,"1-Specificity",23,{anchor:'middle',name:'x-axis-title'});
  txt(g,1840,cfg.titleY,cfg.title,23,{name:'roc-cohort-title'});
  ['1','3','5'].forEach((yr,k)=>{const y=cfg.legY[k];
    const l=el('line',{x1:1727,x2:1773,y1:y,y2:y,stroke:cols[k],'stroke-width':6},g);
    
    
    txt(g,1781,y,"AUC at "+yr+" years: "+cfg.auc[k],21,{name:'roc-legend-label'});});
}
roc({name:'roc-tcga',x0:1661,x1:2003,y1:503,y0:806,bx0:1639,bx1:2014,by0:494,by1:814,r1x:cR1x,r1y:cR1y,r3x:cR3x,r3y:cR3y,r5x:cR5x,r5y:cR5y,xTitleY:870,title:"TCGA",titleY:701,legY:[741,770,797],auc:cAUC});
roc({name:'roc-gse65904',x0:1661,x1:2003,y1:1001,y0:1302,bx0:1639,bx1:2014,by0:987,by1:1317,r1x:dR1x,r1y:dR1y,r3x:dR3x,r3y:dR3y,r5x:dR5x,r5y:dR5y,xTitleY:1375,title:"GSE65904",titleY:1197,legY:[1233,1262,1289],auc:dAUC});
roc({name:'roc-gse54467',x0:1662,x1:1999,y1:1501,y0:1804,bx0:1640,bx1:2010,by0:1483,by1:1824,r1x:eR1x,r1y:eR1y,r3x:eR3x,r3y:eR3y,r5x:eR5x,r5y:eR5y,xTitleY:1870,title:"GSE54467",titleY:1704,legY:[1736,1765,1791],auc:eAUC});
roc({name:'roc-gse59455',x0:1659,x1:1999,y1:2008,y0:2310,bx0:1637,bx1:2010,by0:1991,by1:2326,r1x:fR1x,r1y:fR1y,r3x:fR3x,r3y:fR3y,r5x:fR5x,r5y:fR5y,xTitleY:2376,title:"GSE59455",titleY:2204,legY:[2241,2269,2296],auc:fAUC});
</script>
</body></html>
